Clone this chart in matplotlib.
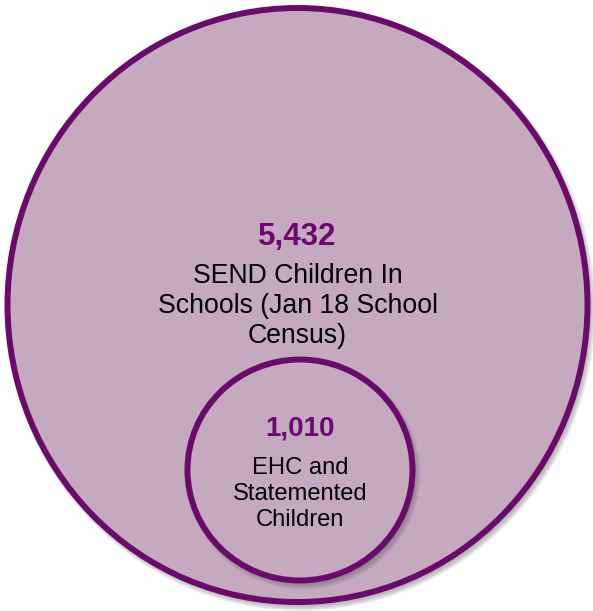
import matplotlib
matplotlib.use("Agg")
import matplotlib.pyplot as plt
from matplotlib.patches import Ellipse

# Values and labels shown in the diagram
values = [5432, 1010]
labels = ["SEND Children In\nSchools (Jan 18 School\nCensus)",
          "EHC and\nStatemented\nChildren"]

# Layout (pixels, y downwards): centre x, centre y, width, height
circles = [(297.5, 305, 580, 594), (300, 470, 225, 221)]
number_y = [237, 428]
label_y = [306, 494]
number_size = [22.5, 20]
label_size = [19.2, 17.1]
line_gap = [1.2, 1.26]

FILL = "#C4A9BF"
EDGE = "#6A0A6A"
NUM_COLOR = "#6E0770"

plt.rcParams["font.family"] = ["Liberation Sans", "DejaVu Sans"]

fig = plt.figure(figsize=(5.93, 6.11), dpi=100)
ax = fig.add_axes([0, 0, 1, 1])
ax.set_xlim(0, 593)
ax.set_ylim(611, 0)
ax.set_aspect("equal")
ax.axis("off")

for i, (cx, cy, w, h) in enumerate(circles):
    # soft drop shadow
    for k in range(6):
        ax.add_patch(Ellipse((cx + 3, cy + 4), w + 10 - 2 * k, h + 10 - 2 * k,
                             facecolor="#555555", edgecolor="none",
                             alpha=0.08, zorder=2 * i))
    ax.add_patch(Ellipse((cx, cy), w, h, facecolor=FILL, edgecolor=EDGE,
                         linewidth=4.3, zorder=2 * i + 1))
    ax.text(cx, number_y[i], f"{values[i]:,}", ha="center", va="center",
            fontsize=number_size[i], fontweight="bold", color=NUM_COLOR,
            zorder=10)
    ax.text(cx, label_y[i], labels[i], ha="center", va="center",
            fontsize=label_size[i], color="black", linespacing=line_gap[i],
            zorder=10)

fig.savefig("out.png", dpi=100)
